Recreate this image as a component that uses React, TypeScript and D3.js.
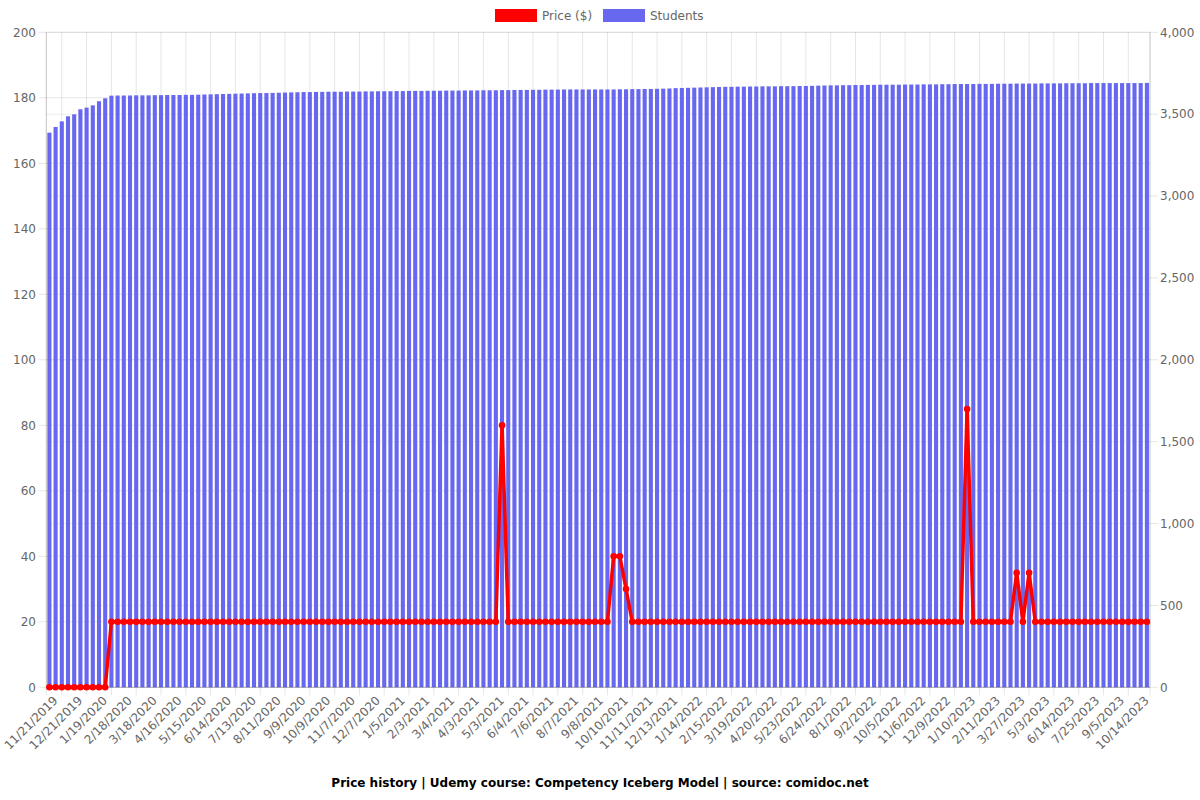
import React from "react";
import * as d3 from "d3";

const tickLabels: string[] = [
  "11/21/2019", "12/21/2019", "1/19/2020", "2/18/2020", "3/18/2020", "4/16/2020", "5/15/2020",
  "6/14/2020", "7/13/2020", "8/11/2020", "9/9/2020", "10/9/2020", "11/7/2020", "12/7/2020",
  "1/5/2021", "2/3/2021", "3/4/2021", "4/3/2021", "5/3/2021", "6/4/2021", "7/6/2021", "8/7/2021",
  "9/8/2021", "10/10/2021", "11/11/2021", "12/13/2021", "1/14/2022", "2/15/2022", "3/19/2022",
  "4/20/2022", "5/23/2022", "6/24/2022", "8/1/2022", "9/2/2022", "10/5/2022", "11/6/2022",
  "12/9/2022", "1/10/2023", "2/11/2023", "3/27/2023", "5/3/2023", "6/14/2023", "7/25/2023",
  "9/5/2023", "10/14/2023",
];
const tickEvery = 4;

const students: number[] = [
  3387, 3422, 3456, 3487, 3499, 3530, 3540, 3554, 3579, 3597, 3613,
  3614, 3614, 3614, 3615, 3615, 3615, 3616, 3616, 3617, 3617,
  3617, 3618, 3618, 3619, 3620, 3621, 3622, 3623, 3624, 3625,
  3626, 3627, 3628, 3629, 3629, 3630, 3631, 3632, 3633, 3634,
  3635, 3635, 3636, 3636, 3637, 3637, 3637, 3638, 3638, 3638,
  3639, 3639, 3640, 3640, 3640, 3641, 3641, 3642, 3642, 3642,
  3643, 3643, 3643, 3644, 3644, 3644, 3645, 3645, 3645, 3646,
  3646, 3646, 3647, 3647, 3648, 3648, 3648, 3649, 3649, 3650,
  3650, 3650, 3651, 3651, 3651, 3651, 3651, 3651, 3651, 3651,
  3651, 3652, 3652, 3653, 3653, 3654, 3654, 3655, 3656, 3657,
  3659, 3660, 3661, 3662, 3663, 3664, 3665, 3666, 3667, 3667,
  3668, 3668, 3669, 3669, 3670, 3670, 3670, 3671, 3671, 3671,
  3672, 3672, 3673, 3674, 3675, 3676, 3676, 3677, 3677, 3678,
  3678, 3679, 3679, 3680, 3680, 3680, 3680, 3681, 3681, 3681,
  3682, 3682, 3682, 3683, 3683, 3684, 3684, 3684, 3684, 3685,
  3685, 3685, 3686, 3686, 3686, 3687, 3687, 3687, 3687, 3688,
  3688, 3688, 3688, 3689, 3689, 3689, 3689, 3690, 3690, 3690,
  3690, 3690, 3690, 3690, 3690, 3690, 3691,
];

const prices: number[] = [
  0, 0, 0, 0, 0, 0, 0, 0, 0, 0,
  20, 20, 20, 20, 20, 20, 20, 20, 20, 20,
  20, 20, 20, 20, 20, 20, 20, 20, 20, 20,
  20, 20, 20, 20, 20, 20, 20, 20, 20, 20,
  20, 20, 20, 20, 20, 20, 20, 20, 20, 20,
  20, 20, 20, 20, 20, 20, 20, 20, 20, 20,
  20, 20, 20, 20, 20, 20, 20, 20, 20, 20,
  20, 20, 20, 80, 20, 20, 20, 20, 20, 20,
  20, 20, 20, 20, 20, 20, 20, 20, 20, 20,
  20, 40, 40, 30, 20, 20, 20, 20, 20, 20,
  20, 20, 20, 20, 20, 20, 20, 20, 20, 20,
  20, 20, 20, 20, 20, 20, 20, 20, 20, 20,
  20, 20, 20, 20, 20, 20, 20, 20, 20, 20,
  20, 20, 20, 20, 20, 20, 20, 20, 20, 20,
  20, 20, 20, 20, 20, 20, 20, 20, 85, 20,
  20, 20, 20, 20, 20, 20, 35, 20, 35, 20,
  20, 20, 20, 20, 20, 20, 20, 20, 20, 20,
  20, 20, 20, 20, 20, 20, 20, 20,
];

const leftTicks = [0, 20, 40, 60, 80, 100, 120, 140, 160, 180, 200];
const rightTicks = [0, 500, 1000, 1500, 2000, 2500, 3000, 3500, 4000];

const FONT = "'DejaVu Sans', Arial, sans-serif";
const GREY = "#666";
const BAR = "#6767ef";

export default function App() {
  const left = 46.3, right = 1150, top = 32.3, bottom = 687.3;
  const idx = d3.range(students.length);
  const x = d3.scaleBand<number>().domain(idx).range([left, right]).padding(0);
  const bw = x.bandwidth();
  const cx = (i: number) => (x(i) as number) + bw / 2;
  const yL = d3.scaleLinear().domain([0, 200]).range([bottom, top]);
  const yR = d3.scaleLinear().domain([0, 4000]).range([bottom, top]);
  const barW = bw * 0.66;

  const line = d3.line<number>().x((_, i) => cx(i)).y((d) => yL(d));

  const tickIdx = tickLabels.map((_, k) => k * tickEvery);
  const gridXs = [left, ...tickIdx.filter((i) => i > 0).map((i) => cx(i - 2)), right];

  return (
    <svg width={1200} height={800} style={{ position: "absolute", left: 0, top: 0, background: "#fff" }}>
      {rightTicks.map((t) => (
        <line key={"rg" + t} x1={left} x2={right} y1={yR(t)} y2={yR(t)} stroke="rgba(0,0,0,0.07)" />
      ))}
      {leftTicks.map((t) => (
        <line key={"lg" + t} x1={left - 8} x2={right} y1={yL(t)} y2={yL(t)} stroke="rgba(0,0,0,0.1)" />
      ))}
      {rightTicks.map((t) => (
        <line key={"rt" + t} x1={right} x2={right + 8} y1={yR(t)} y2={yR(t)} stroke="rgba(0,0,0,0.1)" />
      ))}
      {gridXs.map((gx, i) => (
        <line key={"vg" + i} x1={gx} x2={gx} y1={top} y2={bottom + 8} stroke="rgba(0,0,0,0.1)" />
      ))}
      {students.map((v, i) => (
        <rect
          key={"b" + i}
          x={cx(i) - barW / 2}
          y={yR(v)}
          width={barW}
          height={bottom - yR(v)}
          fill={BAR}
        />
      ))}
      <line x1={left} x2={left} y1={top} y2={bottom} stroke="rgba(0,0,0,0.15)" />
      <line x1={right} x2={right} y1={top} y2={bottom} stroke="rgba(0,0,0,0.15)" />
      <line x1={left} x2={right} y1={bottom} y2={bottom} stroke="rgba(0,0,0,0.2)" />
      <path d={line(prices) || ""} fill="none" stroke="#ff0000" strokeWidth={3.5} strokeLinejoin="miter" />
      {prices.map((p, i) => (
        <circle key={"p" + i} cx={cx(i)} cy={yL(p)} r={3.3} fill="#ff0000" />
      ))}
      {leftTicks.map((t) => (
        <text key={"ll" + t} x={36} y={yL(t)} dy="0.35em" textAnchor="end" fontFamily={FONT} fontSize={12} fill={GREY}>
          {t}
        </text>
      ))}
      {rightTicks.map((t) => (
        <text key={"rl" + t} x={1160} y={yR(t)} dy="0.35em" textAnchor="start" fontFamily={FONT} fontSize={12} fill={GREY}>
          {d3.format(",")(t)}
        </text>
      ))}
      {tickLabels.map((lab, k) => {
        const tx = cx(tickIdx[k]) + 6;
        const ty = bottom + 11;
        return (
          <text
            key={"xl" + k}
            x={tx}
            y={ty}
            dy="0.35em"
            textAnchor="end"
            transform={`rotate(-45, ${tx}, ${ty})`}
            fontFamily={FONT}
            fontSize={12}
            fill={GREY}
          >
            {lab}
          </text>
        );
      })}
      <rect x={495} y={9} width={42} height={13} fill="#ff0000" />
      <text x={542} y={16} dy="0.35em" fontFamily={FONT} fontSize={12} fill={GREY}>Price ($)</text>
      <rect x={603} y={9} width={42} height={13} fill={BAR} />
      <text x={650} y={16} dy="0.35em" fontFamily={FONT} fontSize={12} fill={GREY}>Students</text>
      <text x={600} y={783} dy="0.35em" textAnchor="middle" fontFamily={FONT} fontSize={12} fontWeight="bold" fill="#000">
        Price history | Udemy course: Competency Iceberg Model | source: comidoc.net
      </text>
    </svg>
  );
}
